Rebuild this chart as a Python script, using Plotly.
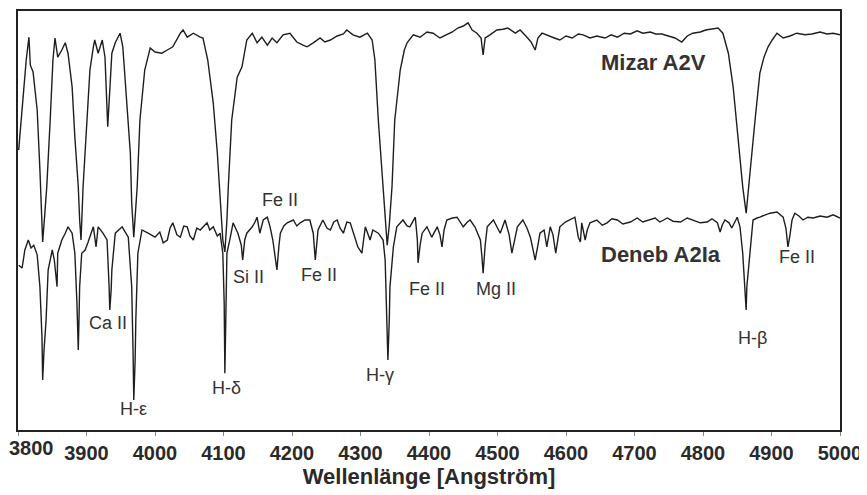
import plotly.graph_objects as go

# Wavelength (Angstrom) and relative flux
mizar_wl = [3801, 3806, 3812, 3816, 3818, 3822, 3828, 3832, 3835, 3836, 3839, 3842, 3847, 3851, 3854, 3858, 3864, 3869, 3873, 3879,
            3883, 3888, 3890, 3892, 3895, 3901, 3905, 3910, 3912, 3917, 3923, 3927, 3930, 3931, 3934, 3937, 3942, 3949, 3953, 3959,
            3964, 3966, 3969, 3974, 3978, 3985, 3993, 4000, 4010, 4018, 4026, 4037, 4041, 4047, 4056, 4066, 4070, 4077, 4085, 4091,
            4095, 4099, 4102, 4105, 4107, 4112, 4120, 4127, 4134, 4142, 4149, 4156, 4164, 4171, 4178, 4187, 4197, 4207, 4216, 4222,
            4231, 4241, 4248, 4256, 4266, 4275, 4280, 4289, 4299, 4310, 4317, 4321, 4326, 4331, 4336, 4339, 4342, 4346, 4350, 4358,
            4364, 4368, 4377, 4387, 4397, 4406, 4416, 4426, 4434, 4442, 4450, 4457, 4463, 4470, 4476, 4479, 4482, 4489, 4499, 4508,
            4515, 4526, 4533, 4543, 4549, 4555, 4559, 4565, 4574, 4583, 4591, 4600, 4609, 4618, 4625, 4635, 4645, 4657, 4666, 4675,
            4685, 4694, 4704, 4712, 4723, 4731, 4740, 4749, 4759, 4769, 4777, 4785, 4796, 4804, 4813, 4822, 4829, 4837, 4844, 4851,
            4858, 4863, 4866, 4869, 4876, 4883, 4889, 4895, 4901, 4908, 4917, 4927, 4937, 4949, 4959, 4971, 4981, 4990, 5000]
mizar_flux = [0.700, 0.812, 0.925, 0.982, 0.912, 0.895, 0.800, 0.650, 0.538, 0.470, 0.538, 0.608, 0.775, 0.925, 0.980, 0.932, 0.950, 0.968, 0.942, 0.858,
              0.732, 0.608, 0.525, 0.475, 0.608, 0.775, 0.900, 0.958, 0.975, 0.942, 0.975, 0.932, 0.825, 0.758, 0.850, 0.942, 0.968, 0.992, 0.958, 0.818,
              0.692, 0.568, 0.482, 0.608, 0.775, 0.900, 0.955, 0.945, 0.942, 0.950, 0.958, 0.992, 1.000, 0.982, 0.992, 0.982, 0.980, 0.925, 0.818, 0.692,
              0.568, 0.475, 0.445, 0.525, 0.608, 0.775, 0.882, 0.908, 0.975, 0.992, 0.968, 0.982, 0.962, 0.980, 0.968, 0.988, 0.992, 0.970, 0.962, 0.958,
              0.968, 0.980, 0.970, 0.975, 0.985, 0.990, 1.000, 0.988, 0.982, 0.992, 0.975, 0.925, 0.775, 0.650, 0.525, 0.462, 0.512, 0.608, 0.775, 0.900,
              0.950, 0.968, 0.988, 0.982, 0.995, 0.992, 0.980, 0.988, 0.995, 1.005, 1.010, 1.018, 1.000, 0.992, 0.980, 0.938, 0.980, 0.988, 1.000, 1.002,
              1.005, 0.992, 1.000, 0.982, 0.970, 0.950, 0.980, 0.992, 0.985, 0.980, 0.975, 0.985, 0.980, 0.990, 0.988, 0.980, 0.985, 0.980, 0.988, 0.982,
              0.992, 0.990, 0.998, 0.992, 0.995, 0.990, 0.990, 0.985, 0.980, 0.970, 0.985, 0.992, 0.995, 1.000, 1.002, 1.005, 0.992, 0.942, 0.858, 0.732,
              0.608, 0.542, 0.588, 0.650, 0.775, 0.892, 0.932, 0.958, 0.975, 0.992, 0.980, 0.985, 0.992, 0.988, 0.990, 0.995, 0.990, 0.992, 0.988]

deneb_wl = [3801, 3806, 3810, 3815, 3819, 3823, 3828, 3832, 3835, 3836, 3838, 3841, 3844, 3850, 3853, 3857, 3858, 3864, 3869, 3873,
            3879, 3883, 3886, 3888, 3889, 3890, 3893, 3898, 3902, 3910, 3914, 3917, 3924, 3930, 3933, 3934, 3936, 3937, 3942, 3952,
            3961, 3966, 3968, 3969, 3971, 3972, 3975, 3981, 3990, 4000, 4007, 4012, 4018, 4022, 4026, 4032, 4037, 4042, 4047, 4051,
            4056, 4061, 4066, 4072, 4076, 4080, 4085, 4091, 4095, 4099, 4101, 4102, 4104, 4105, 4110, 4114, 4121, 4126, 4128, 4131,
            4134, 4142, 4146, 4149, 4153, 4158, 4164, 4168, 4172, 4175, 4178, 4181, 4183, 4188, 4193, 4202, 4207, 4212, 4219, 4226,
            4231, 4234, 4237, 4238, 4245, 4251, 4256, 4261, 4266, 4270, 4275, 4280, 4285, 4292, 4296, 4302, 4307, 4314, 4318, 4326,
            4333, 4336, 4337, 4340, 4342, 4343, 4348, 4353, 4362, 4368, 4372, 4380, 4383, 4384, 4387, 4390, 4397, 4404, 4412, 4416,
            4419, 4422, 4426, 4434, 4441, 4450, 4456, 4460, 4467, 4475, 4477, 4479, 4482, 4485, 4494, 4499, 4504, 4511, 4517, 4521,
            4526, 4529, 4537, 4543, 4548, 4552, 4555, 4559, 4562, 4568, 4572, 4577, 4581, 4585, 4588, 4591, 4599, 4606, 4613, 4618,
            4621, 4623, 4628, 4631, 4635, 4645, 4653, 4660, 4667, 4675, 4683, 4694, 4704, 4712, 4723, 4730, 4737, 4748, 4756, 4767,
            4777, 4785, 4796, 4806, 4813, 4821, 4825, 4828, 4832, 4838, 4842, 4850, 4854, 4858, 4861, 4863, 4864, 4869, 4873, 4879,
            4883, 4891, 4898, 4908, 4917, 4921, 4923, 4924, 4927, 4930, 4934, 4940, 4946, 4953, 4961, 4971, 4981, 4990, 5000]
deneb_flux = [0.412, 0.405, 0.450, 0.475, 0.455, 0.462, 0.438, 0.358, 0.232, 0.125, 0.200, 0.275, 0.400, 0.450, 0.425, 0.358, 0.442, 0.475, 0.492, 0.508,
              0.492, 0.442, 0.318, 0.200, 0.275, 0.358, 0.442, 0.450, 0.468, 0.508, 0.458, 0.508, 0.492, 0.475, 0.358, 0.300, 0.350, 0.400, 0.492, 0.508,
              0.482, 0.358, 0.192, 0.075, 0.175, 0.275, 0.442, 0.500, 0.492, 0.482, 0.495, 0.468, 0.475, 0.505, 0.518, 0.488, 0.482, 0.510, 0.508, 0.485,
              0.475, 0.505, 0.500, 0.510, 0.518, 0.500, 0.508, 0.485, 0.492, 0.442, 0.318, 0.142, 0.318, 0.442, 0.482, 0.518, 0.492, 0.462, 0.425, 0.475,
              0.492, 0.508, 0.520, 0.532, 0.492, 0.525, 0.532, 0.508, 0.475, 0.442, 0.400, 0.462, 0.492, 0.510, 0.518, 0.525, 0.510, 0.518, 0.525, 0.525,
              0.492, 0.425, 0.475, 0.500, 0.525, 0.505, 0.500, 0.520, 0.525, 0.505, 0.492, 0.520, 0.518, 0.482, 0.458, 0.442, 0.508, 0.475, 0.500, 0.492,
              0.475, 0.425, 0.358, 0.175, 0.275, 0.358, 0.458, 0.508, 0.525, 0.510, 0.508, 0.532, 0.475, 0.418, 0.462, 0.492, 0.508, 0.482, 0.508, 0.488,
              0.458, 0.500, 0.525, 0.530, 0.532, 0.508, 0.520, 0.525, 0.508, 0.475, 0.438, 0.392, 0.462, 0.508, 0.525, 0.510, 0.492, 0.525, 0.488, 0.442,
              0.480, 0.508, 0.525, 0.505, 0.482, 0.450, 0.425, 0.462, 0.492, 0.500, 0.458, 0.508, 0.488, 0.442, 0.475, 0.508, 0.520, 0.525, 0.532, 0.482,
              0.470, 0.518, 0.475, 0.500, 0.518, 0.525, 0.512, 0.518, 0.528, 0.525, 0.515, 0.520, 0.530, 0.520, 0.525, 0.530, 0.520, 0.530, 0.522, 0.520,
              0.530, 0.525, 0.518, 0.520, 0.528, 0.518, 0.495, 0.512, 0.525, 0.518, 0.505, 0.532, 0.508, 0.442, 0.358, 0.300, 0.358, 0.442, 0.525, 0.530,
              0.532, 0.538, 0.542, 0.545, 0.532, 0.505, 0.482, 0.458, 0.488, 0.525, 0.542, 0.535, 0.525, 0.532, 0.530, 0.535, 0.532, 0.538, 0.530]

tick_vals = [3800, 3900, 4000, 4100, 4200, 4300, 4400, 4500, 4600, 4700, 4800, 4900, 5000]
tick_text = ["3800", "3900", "4000", "4100", "4200", "4300", "4400", "4500", "4600", "4700", "4800", "4900", "5000"]

# Labels: text, wavelength, flux, bold
label_text = ["Mizar A2V", "Deneb A2Ia", "Ca II", "H-ε", "H-δ", "Si II", "Fe II", "Fe II", "H-γ", "Fe II", "Mg II", "H-β", "Fe II"]
label_wl = [4727, 4739, 3931, 3968, 4105, 4137, 4182, 4239, 4328, 4397, 4498, 4872, 4937]
label_flux = [0.918, 0.438, 0.268, 0.052, 0.105, 0.383, 0.575, 0.388, 0.137, 0.353, 0.353, 0.230, 0.433]
label_bold = [True, True, False, False, False, False, False, False, False, False, False, False, False]

FONT = "Liberation Sans, Arial, sans-serif"
NARROW = "Liberation Sans Narrow, Arial Narrow, Liberation Sans, sans-serif"
TICKFONT = dict(family=NARROW, size=20, color="#2a2a2a", weight="bold")

fig = go.Figure()
fig.add_trace(go.Scatter(x=mizar_wl, y=mizar_flux, mode="lines",
                         line=dict(color="#1e1e1e", width=1.4), name="Mizar A2V", showlegend=False))
fig.add_trace(go.Scatter(x=deneb_wl, y=deneb_flux, mode="lines",
                         line=dict(color="#1e1e1e", width=1.4), name="Deneb A2Ia", showlegend=False))

for t, xw, yf, b in zip(label_text, label_wl, label_flux, label_bold):
    fig.add_annotation(x=xw, y=yf, xref="x", yref="y", text=f"<b>{t}</b>" if b else t,
                       showarrow=False, xanchor="center", yanchor="middle",
                       font=dict(family=FONT, size=22 if b else 18, color="#333333"))

# first tick label sits at the left edge; keep it fully visible
fig.add_annotation(x=tick_vals[0], y=0, xref="x", yref="paper", text=tick_text[0],
                   showarrow=False, xanchor="left", xshift=-11, yanchor="top", yshift=-5, font=TICKFONT)

fig.update_layout(
    width=859, height=487,
    margin=dict(l=10, r=27, t=3, b=65),
    paper_bgcolor="white", plot_bgcolor="white",
    font=dict(family=FONT, color="#2a2a2a"),
    xaxis=dict(range=[3800, 5000], tickvals=tick_vals, ticktext=tick_text,
               showgrid=False, zeroline=False, showline=True, linecolor="#222222", linewidth=2, mirror=True,
               ticks="outside", ticklen=4, tickcolor="#888888",
               tickfont=TICKFONT,
               title=dict(text="<b>Wellenlänge [Angström]</b>", font=dict(family=FONT, size=22, color="#2a2a2a"), standoff=6),
               automargin=False),
    yaxis=dict(range=[0, 1.0475], showgrid=False, zeroline=False, showline=True, linecolor="#222222", linewidth=2, mirror=True,
               showticklabels=False, ticks="", automargin=False),
)

fig.write_html("out.html")
